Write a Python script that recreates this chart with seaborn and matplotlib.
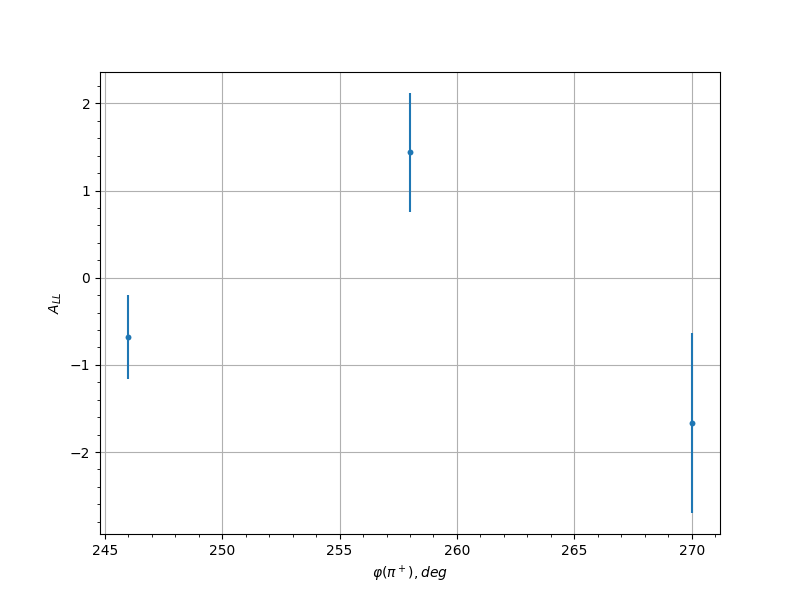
import numpy as np
import pandas as pd
import matplotlib
matplotlib.use("Agg")
import matplotlib.pyplot as plt
import seaborn as sns

# phi(pi+) bins and A_LL values
phi_deg = [246, 258, 270]
a_ll = [-0.68, 1.44, -1.67]
a_ll_err = [0.48, 0.68, 1.03]

df = pd.DataFrame({"phi": phi_deg, "A_LL": a_ll, "err": a_ll_err})

fig, ax = plt.subplots(figsize=(8, 6), dpi=100)
ax.errorbar(df["phi"], df["A_LL"], yerr=df["err"], fmt="none", ecolor="#1f77b4", elinewidth=1.5)
sns.scatterplot(data=df, x="phi", y="A_LL", ax=ax, color="#1f77b4", s=18, linewidth=0, zorder=3)

ax.set_xlabel(r"$\varphi(\pi^+), deg$")
ax.set_ylabel(r"$A_{LL}$")
ax.minorticks_on()
ax.grid(True, which="major", color="#b0b0b0", linewidth=0.8)
ax.set_axisbelow(True)

fig.savefig("out.png", dpi=100)
